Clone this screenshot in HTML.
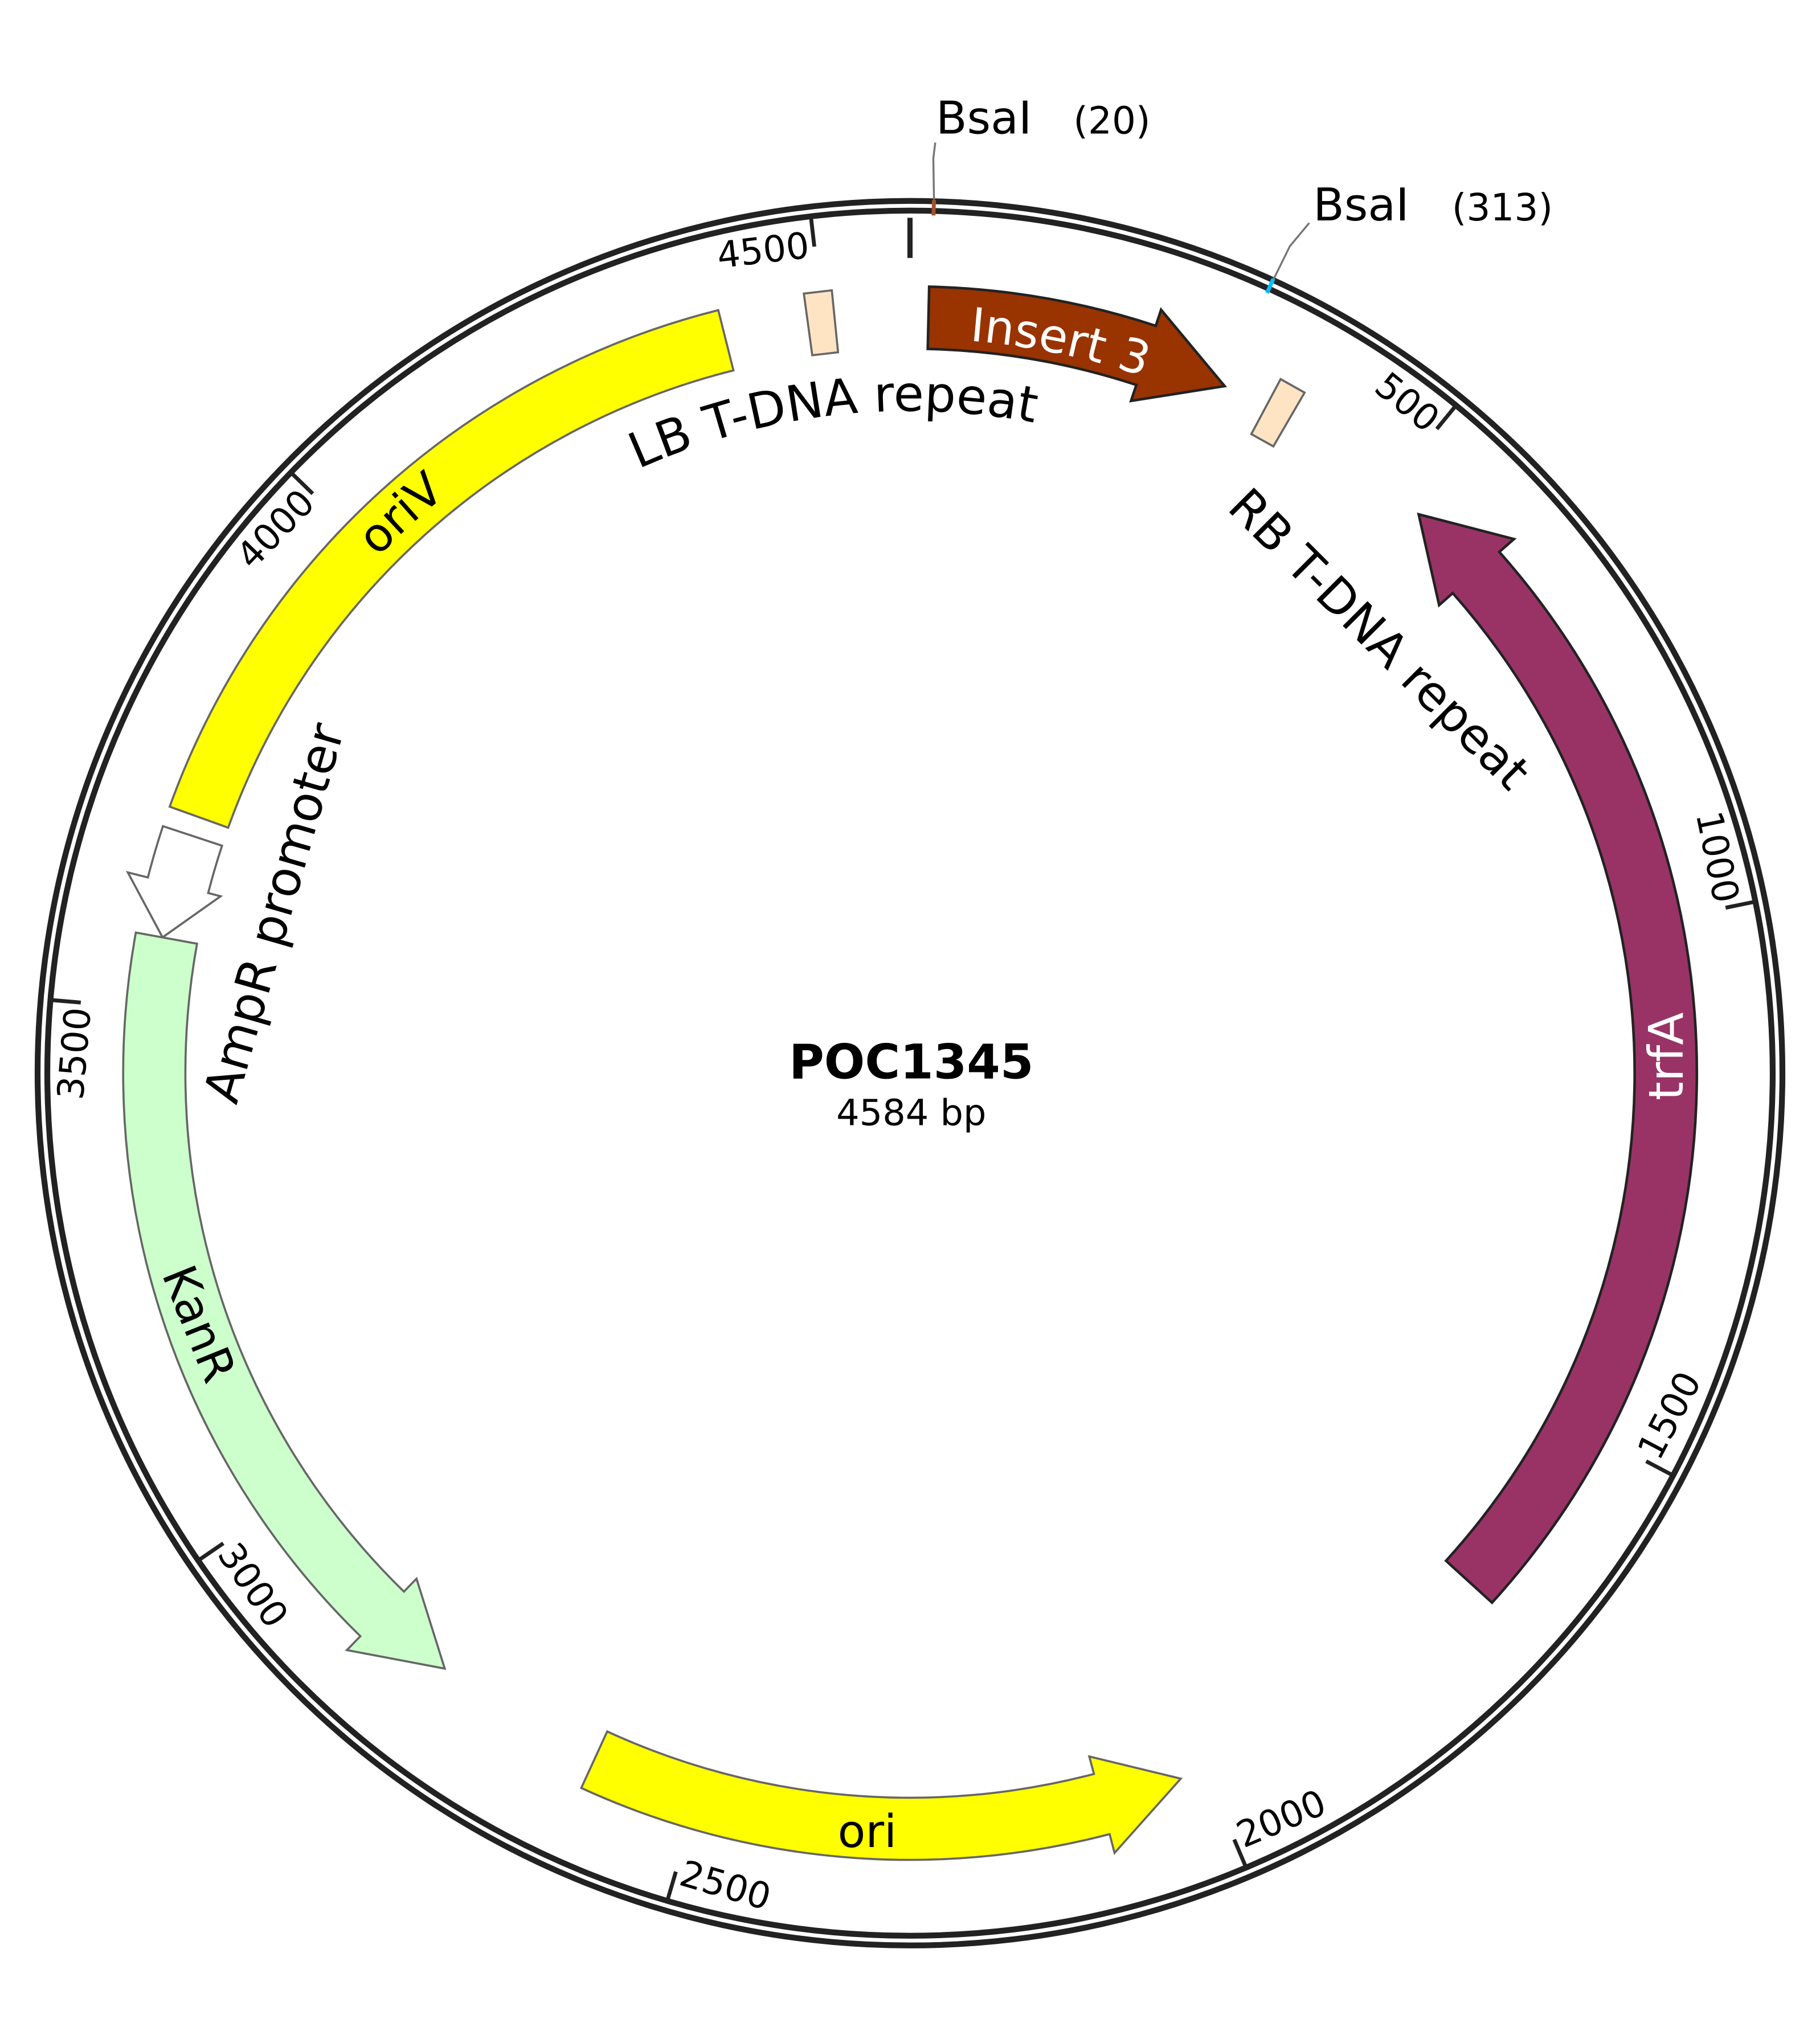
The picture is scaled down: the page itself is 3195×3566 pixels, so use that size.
<!DOCTYPE html>
<html><head><meta charset="utf-8"><style>
html,body{margin:0;padding:0;background:#fff;}
svg{display:block;}
text{font-family:"DejaVu Sans","Liberation Sans",sans-serif;}
</style></head><body>
<svg width="3195" height="3566" viewBox="0 0 1404 1567" preserveAspectRatio="none" xmlns="http://www.w3.org/2000/svg">
<rect width="1404" height="1567" fill="#fff"/>
<circle cx="702" cy="828" r="673" fill="none" stroke="#222" stroke-width="4.5"/>
<circle cx="702" cy="828" r="665.5" fill="none" stroke="#222" stroke-width="4.5"/>
<line x1="702" y1="168" x2="702" y2="199" stroke="#222" stroke-width="4"/>
<g stroke="#222" stroke-width="3">
<line x1="702" y1="163" x2="702" y2="186" transform="rotate(39.27 702 828)"/>
<line x1="702" y1="163" x2="702" y2="186" transform="rotate(78.53 702 828)"/>
<line x1="702" y1="163" x2="702" y2="186" transform="rotate(117.8 702 828)"/>
<line x1="702" y1="163" x2="702" y2="186" transform="rotate(157.07 702 828)"/>
<line x1="702" y1="163" x2="702" y2="186" transform="rotate(196.34 702 828)"/>
<line x1="702" y1="163" x2="702" y2="186" transform="rotate(235.6 702 828)"/>
<line x1="702" y1="163" x2="702" y2="186" transform="rotate(274.87 702 828)"/>
<line x1="702" y1="163" x2="702" y2="186" transform="rotate(314.14 702 828)"/>
<line x1="702" y1="163" x2="702" y2="186" transform="rotate(353.4 702 828)"/>
</g>
<g font-size="28" fill="#000">
<text transform="rotate(39.27 702 828)" x="698" y="194" text-anchor="end">500</text>
<text transform="rotate(78.53 702 828)" x="698" y="194" text-anchor="end">1000</text>
<text transform="rotate(-62.2 702 828)" x="706" y="1479" text-anchor="start">1500</text>
<text transform="rotate(-22.93 702 828)" x="706" y="1479" text-anchor="start">2000</text>
<text transform="rotate(16.34 702 828)" x="706" y="1479" text-anchor="start">2500</text>
<text transform="rotate(55.6 702 828)" x="706" y="1479" text-anchor="start">3000</text>
<text transform="rotate(274.87 702 828)" x="698" y="194" text-anchor="end">3500</text>
<text transform="rotate(314.14 702 828)" x="698" y="194" text-anchor="end">4000</text>
<text transform="rotate(353.4 702 828)" x="698" y="194" text-anchor="end">4500</text>
</g>
<line x1="702" y1="154" x2="702" y2="166" stroke="#a0522d" stroke-width="3" transform="rotate(1.57 702 828)"/>
<line x1="702" y1="154" x2="702" y2="166" stroke="#00bfff" stroke-width="3" transform="rotate(24.58 702 828)"/>
<polyline points="720.5,154 720,122 721.5,110" fill="none" stroke="#777" stroke-width="1.5"/>
<polyline points="982.6,215.2 995,190 1010,172" fill="none" stroke="#777" stroke-width="1.5"/>
<text x="722" y="103" font-size="35">BsaI</text>
<text x="828" y="103" font-size="29">(20)</text>
<text x="1013" y="170" font-size="35">BsaI</text>
<text x="1120" y="170" font-size="29">(313)</text>
<g stroke="#666" stroke-width="1.6">
<path d="M130.9,622.4 A607,607 0 0 1 554.1,239.3 L565.8,285.8 A559,559 0 0 0 176.0,638.6 Z" fill="#ffff00"/>
<path d="M620.1,226.5 L641.7,224.0 L646.5,271.8 L626.6,274.1 Z" fill="#ffe4c4"/>
<path d="M987.9,292.5 L1006.4,302.9 L982.3,344.4 L965.3,334.9 Z" fill="#ffe4c4"/>
<path d="M125.7,637.4 A607,607 0 0 0 114.1,677.0 L98.6,673.1 L125.4,723.2 L170.2,691.5 L160.6,689.0 A559,559 0 0 1 171.3,652.5 Z" fill="#fff"/>
<path d="M104.8,719.5 A607,607 0 0 0 278.0,1262.4 L267.6,1273.1 L343.1,1287.4 L321.3,1218.0 L311.6,1228.0 A559,559 0 0 1 152.0,728.1 Z" fill="#ccffcc"/>
<path d="M448.4,1379.5 A607,607 0 0 0 856.0,1415.1 L859.8,1429.6 L910.9,1372.3 L840.3,1355.2 L843.9,1368.7 A559,559 0 0 1 468.4,1335.9 Z" fill="#ffff00"/>
</g>
<g stroke="#222" stroke-width="2">
<path d="M716.8,221.2 A607,607 0 0 1 891.6,251.4 L895.7,239.0 L944.7,297.9 L872.5,309.3 L876.6,297.0 A559,559 0 0 0 715.7,269.2 Z" fill="#993300"/>
<path d="M1151.0,1236.5 A607,607 0 0 0 1156.6,425.8 L1167.9,415.9 L1094.4,396.8 L1110.2,466.9 L1120.7,457.6 A559,559 0 0 1 1115.5,1204.2 Z" fill="#993366"/>
</g>
<defs>
<path id="pLB" d="M396.6,418.3 A511,511 0 0 1 904.1,358.7"/>
<path id="pIns" d="M619.2,267.1 A567,567 0 0 1 999.1,345.1"/>
<path id="pOriV" d="M195.6,562.1 A572,572 0 0 1 484.9,298.8"/>
</defs>
<text font-size="38" fill="#000"><textPath href="#pLB" startOffset="50%" text-anchor="middle">LB T-DNA repeat</textPath></text>
<text font-size="36" fill="#fff"><textPath href="#pIns" startOffset="50%" text-anchor="middle">Insert 3</textPath></text>
<text font-size="36" fill="#000"><textPath href="#pOriV" startOffset="50%" text-anchor="middle">oriV</textPath></text>
<text font-size="37" text-anchor="middle" transform="rotate(45 1055 502)" x="1055" y="502">RB T-DNA repeat</text>
<text font-size="38" text-anchor="middle" transform="rotate(-74 224 708)" x="224" y="708">AmpR promoter</text>
<text font-size="36" text-anchor="middle" transform="rotate(68 142 1026)" x="142" y="1026">KanR</text>
<text font-size="37" fill="#fff" text-anchor="middle" transform="rotate(-90 1298 815)" x="1298" y="815">trfA</text>
<text font-size="35" text-anchor="middle" x="669" y="1425">ori</text>
<text x="703" y="832" font-size="37" font-weight="bold" text-anchor="middle">POC1345</text>
<text x="703" y="868" font-size="28" text-anchor="middle">4584 bp</text>
</svg>
</body></html>
